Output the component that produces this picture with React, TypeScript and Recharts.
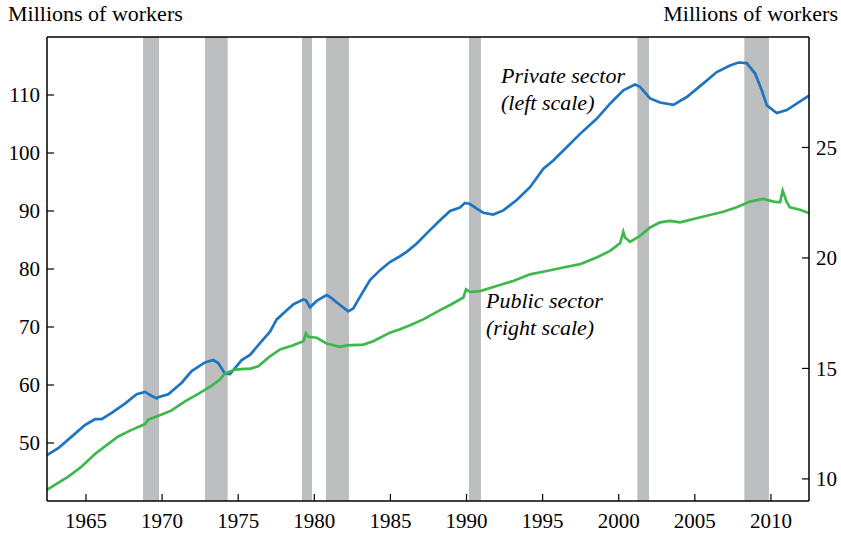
import React from "react";
import {
  LineChart,
  Line,
  XAxis,
  YAxis,
  ReferenceArea,
  ReferenceLine,
} from "recharts";

const FONT = '"Liberation Serif", "Times New Roman", serif';

const privateYears = [
  1962.44, 1963.18, 1964.06, 1964.93, 1965.59, 1966.03, 1966.69, 1967.56, 1968.33, 1968.88,
  1969.32, 1969.65, 1969.75, 1970.41, 1971.29, 1971.94, 1972.82, 1973.36, 1973.69, 1974.13,
  1974.46, 1974.79, 1975.23, 1975.78, 1976.43, 1977.09, 1977.53, 1978.19, 1978.62, 1979.28,
  1979.45, 1979.72, 1980.16, 1980.81, 1981.03, 1981.69, 1982.23, 1982.56, 1983.0, 1983.66,
  1984.32, 1984.97, 1985.63, 1986.07, 1986.73, 1987.6, 1988.26, 1988.92, 1989.57, 1989.9,
  1990.23, 1990.67, 1991.1, 1991.76, 1992.42, 1993.3, 1994.17, 1995.05, 1995.7, 1996.58,
  1997.46, 1998.55, 1999.43, 2000.3, 2001.07, 2001.4, 2002.06, 2002.71, 2003.59, 2004.47,
  2005.56, 2006.44, 2007.31, 2007.86, 2008.41, 2008.96, 2009.4, 2009.73, 2010.38, 2011.04,
  2011.69, 2012.5,
];
const privateValues = [
  47.9, 49.1, 51.1, 53.1, 54.1, 54.1, 55.2, 56.8, 58.4, 58.8,
  58.1, 57.7, 57.9, 58.4, 60.4, 62.4, 63.9, 64.3, 63.8, 62.0,
  61.9, 62.9, 64.3, 65.2, 67.2, 69.2, 71.3, 72.9, 73.9, 74.75,
  74.6, 73.4, 74.5, 75.5, 75.2, 73.8, 72.7, 73.2, 75.2, 78.1,
  79.8, 81.2, 82.2, 82.95, 84.4, 86.7, 88.4, 90.0, 90.6, 91.4,
  91.2, 90.4, 89.7, 89.4, 90.1, 91.9, 94.1, 97.3, 98.7, 101.0,
  103.3, 105.9, 108.5, 110.8, 111.8, 111.4, 109.4, 108.7, 108.3, 109.65,
  112.0, 113.95, 115.1, 115.6, 115.5, 113.7, 110.8, 108.2, 106.9, 107.4,
  108.5, 109.9,
];

const publicYears = [
  1962.44, 1962.96, 1963.84, 1964.72, 1965.59, 1966.25, 1967.12, 1968.0, 1968.88, 1969.09,
  1969.97, 1970.63, 1971.5, 1972.38, 1973.26, 1973.8, 1974.13, 1974.79, 1975.45, 1975.78,
  1976.32, 1977.09, 1977.75, 1978.62, 1979.28, 1979.45, 1979.61, 1980.16, 1980.81, 1981.69,
  1982.13, 1983.22, 1983.88, 1984.97, 1985.63, 1986.29, 1987.16, 1988.26, 1988.92, 1989.79,
  1989.97, 1990.23, 1990.89, 1991.98, 1993.07, 1994.17, 1995.27, 1996.36, 1997.46, 1998.55,
  1999.43, 2000.09, 2000.3, 2000.41, 2000.74, 2001.4, 2002.06, 2002.71, 2003.37, 2004.03,
  2004.9, 2005.78, 2006.87, 2007.75, 2008.63, 2009.5, 2010.16, 2010.6, 2010.77, 2011.04,
  2011.25, 2011.91, 2012.5,
];
const publicValues = [
  9.5, 9.73, 10.1, 10.56, 11.13, 11.47, 11.92, 12.22, 12.48, 12.68,
  12.91, 13.1, 13.51, 13.85, 14.22, 14.5, 14.77, 14.95, 14.98, 14.98,
  15.1, 15.55, 15.86, 16.05, 16.23, 16.58, 16.43, 16.39, 16.13, 15.98,
  16.04, 16.08, 16.23, 16.62, 16.77, 16.95, 17.22, 17.64, 17.87, 18.21,
  18.58, 18.46, 18.5, 18.73, 18.96, 19.26, 19.41, 19.57, 19.72, 20.02,
  20.32, 20.67, 21.18, 20.93, 20.73, 21.0, 21.38, 21.61, 21.68, 21.61,
  21.76, 21.91, 22.09, 22.29, 22.55, 22.67, 22.55, 22.52, 23.05, 22.52,
  22.29, 22.18, 22.03,
];

const recessionStarts = [1968.75, 1972.82, 1979.19, 1980.77, 1990.16, 2001.22, 2008.25];
const recessionEnds = [1969.8, 1974.31, 1979.85, 1982.28, 1990.95, 2001.99, 2009.87];

const xTicks = [1965, 1970, 1975, 1980, 1985, 1990, 1995, 2000, 2005, 2010];
const leftTicks = [50, 60, 70, 80, 90, 100, 110];
const rightTicks = [10, 15, 20, 25];

const privateData = privateYears.map((year, i) => ({ year, value: privateValues[i] }));
const publicData = publicYears.map((year, i) => ({ year, value: publicValues[i] }));

const tickStyle = { fill: "#000", fontSize: 21, fontFamily: FONT };

export default function App() {
  return (
    <div style={{ position: "absolute", left: 0, top: 0, width: 841, height: 533, background: "#fff" }}>
      <LineChart
        width={841}
        height={533}
        margin={{ top: 37, right: 0, bottom: 0, left: 0 }}
      >
        <XAxis
          type="number"
          dataKey="year"
          domain={[1962.44, 2012.5]}
          allowDataOverflow
          ticks={xTicks}
          height={32}
          tick={tickStyle}
          tickSize={-7}
          tickMargin={19}
          axisLine={{ stroke: "#000", strokeWidth: 1.5 }}
          tickLine={{ stroke: "#000", strokeWidth: 1.2 }}
        />
        <YAxis
          yAxisId="left"
          orientation="left"
          domain={[40, 120]}
          ticks={leftTicks}
          width={47}
          tick={tickStyle}
          tickSize={-7}
          tickMargin={14}
          axisLine={{ stroke: "#000", strokeWidth: 1.5 }}
          tickLine={{ stroke: "#000", strokeWidth: 1.2 }}
        />
        <YAxis
          yAxisId="right"
          orientation="right"
          domain={[9, 30]}
          ticks={rightTicks}
          width={32}
          tick={{ ...tickStyle, textAnchor: "start" }}
          tickSize={-7}
          tickMargin={14}
          axisLine={{ stroke: "#000", strokeWidth: 1.5 }}
          tickLine={{ stroke: "#000", strokeWidth: 1.2 }}
        />
        {recessionStarts.map((s, i) => (
          <ReferenceArea
            key={"r" + i}
            yAxisId="left"
            x1={s}
            x2={recessionEnds[i]}
            y1={40}
            y2={120}
            fill="#bcbec0"
            fillOpacity={1}
            stroke="none"
          />
        ))}
        <ReferenceLine yAxisId="left" y={120} stroke="#000" strokeWidth={1.5} />
        <Line
          yAxisId="left"
          data={privateData}
          dataKey="value"
          type="linear"
          stroke="#1f74c0"
          strokeWidth={2.7}
          dot={false}
          isAnimationActive={false}
        />
        <Line
          yAxisId="right"
          data={publicData}
          dataKey="value"
          type="linear"
          stroke="#3db84a"
          strokeWidth={2.7}
          dot={false}
          isAnimationActive={false}
        />
      </LineChart>
      <svg
        width={841}
        height={533}
        style={{ position: "absolute", left: 0, top: 0, pointerEvents: "none" }}
      >
        <g fontFamily={FONT} fill="#000">
          <text x={8} y={21} fontSize={22}>Millions of workers</text>
          <text x={838} y={21} fontSize={22} textAnchor="end">Millions of workers</text>
          <text x={501} y={83} fontSize={22} fontStyle="italic">Private sector</text>
          <text x={501} y={110} fontSize={22} fontStyle="italic">(left scale)</text>
          <text x={486} y={308} fontSize={22} fontStyle="italic">Public sector</text>
          <text x={486} y={335} fontSize={22} fontStyle="italic">(right scale)</text>
        </g>
      </svg>
    </div>
  );
}
